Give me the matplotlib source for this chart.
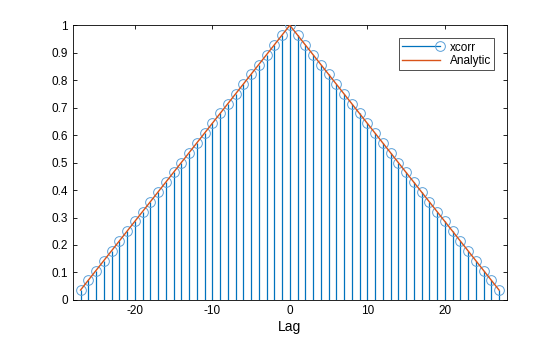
import matplotlib.pyplot as plt
import numpy as np
from matplotlib.lines import Line2D
from matplotlib.legend_handler import HandlerLine2DCompound

# datos
lags = list(range(-27, 28))
xc = [0.036, 0.071, 0.107, 0.143, 0.179, 0.214, 0.250, 0.286, 0.321, 0.357,
      0.393, 0.429, 0.464, 0.500, 0.536, 0.571, 0.607, 0.643, 0.679, 0.714,
      0.750, 0.786, 0.821, 0.857, 0.893, 0.929, 0.964, 1.000,
      0.964, 0.929, 0.893, 0.857, 0.821, 0.786, 0.750, 0.714, 0.679, 0.643,
      0.607, 0.571, 0.536, 0.500, 0.464, 0.429, 0.393, 0.357, 0.321, 0.286,
      0.250, 0.214, 0.179, 0.143, 0.107, 0.071, 0.036]
an_lags = [-27, 0, 27]
an_vals = [0.036, 1.0, 0.036]

xticks = [-20, -10, 0, 10, 20]
yticks = [0, 0.1, 0.2, 0.3, 0.4, 0.5, 0.6, 0.7, 0.8, 0.9, 1]

blue = "#0072BD"
orange = "#D95319"

plt.rcParams['font.family'] = ['Liberation Sans', 'DejaVu Sans']


# marcador al final de la linea, como el stem de MATLAB
class HandlerStem(HandlerLine2DCompound):
    def get_xdata(self, legend, xdescent, ydescent, width, height, fontsize):
        xdata, _ = super().get_xdata(legend, xdescent, ydescent, width, height, fontsize)
        return xdata, [xdata[-1]]


fig = plt.figure(figsize=(5.6, 3.37), dpi=100)
ax = fig.add_axes([0.13, 0.11, 0.775, 0.815])

ax.vlines(lags, 0, xc, color=blue, linewidth=0.9, zorder=2)
ax.plot(lags, xc, linestyle='none', marker='o', markersize=7,
        markerfacecolor='none', markeredgecolor="#5AA0D8", markeredgewidth=0.7, zorder=3)
ax.plot(an_lags, an_vals, color=orange, linewidth=1.0, zorder=4)

ax.set_xlim(-28, 28)
ax.set_ylim(0, 1)
ax.set_xticks(xticks)
ax.set_xticklabels([str(x) for x in xticks])
ax.set_yticks(yticks)
ax.set_yticklabels([("%g" % y) for y in yticks])
ax.tick_params(direction='in', length=3, width=0.6, labelsize=8.5,
               top=True, right=True, colors='black')
for s in ax.spines.values():
    s.set_linewidth(0.6)
ax.set_xlabel("Lag", fontsize=10, labelpad=2)

h_stem = Line2D([0], [0], color=blue, linewidth=0.9, marker='o',
                markersize=7, markerfacecolor='none', markeredgecolor="#5AA0D8",
                markeredgewidth=0.7)
h_an = Line2D([0], [0], color=orange, linewidth=1.0)
leg = ax.legend([h_stem, h_an], ["xcorr", "Analytic"], loc='upper right',
                bbox_to_anchor=(0.985, 0.975), fontsize=8.5, frameon=True,
                fancybox=False, edgecolor='black', handlelength=3.2,
                borderpad=0.3, labelspacing=0.1, handletextpad=0.8,
                handler_map={h_stem: HandlerStem()})
leg.get_frame().set_linewidth(0.6)

plt.savefig("out.png", dpi=100)
plt.close()
